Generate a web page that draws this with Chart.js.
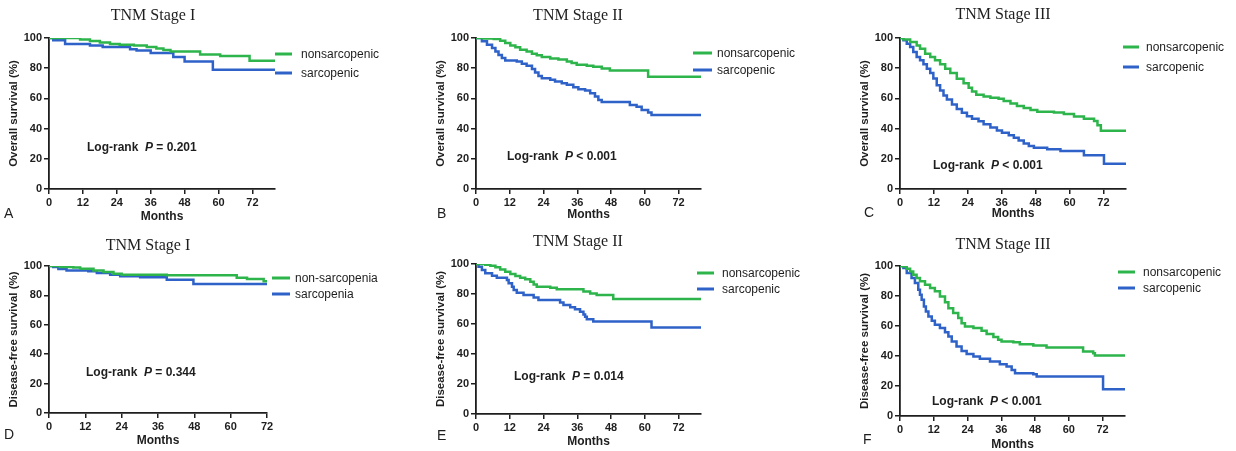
<!DOCTYPE html>
<html>
<head>
<meta charset="utf-8">
<script src="https://cdn.jsdelivr.net/npm/chart.js@4.4.1/dist/chart.umd.min.js"></script>
<style>
  body { margin: 0; background: #fff; }
  #wrap { position: relative; width: 1236px; height: 451px; overflow: hidden; }
  canvas { position: absolute; }
</style>
</head>
<body>
<div id="wrap">
  <canvas id="pA" width="410" height="225" style="left:0;top:0"></canvas>
  <canvas id="pB" width="410" height="225" style="left:410px;top:0"></canvas>
  <canvas id="pC" width="416" height="225" style="left:820px;top:0"></canvas>
  <canvas id="pD" width="410" height="226" style="left:0;top:225px"></canvas>
  <canvas id="pE" width="410" height="226" style="left:410px;top:225px"></canvas>
  <canvas id="pF" width="416" height="226" style="left:820px;top:225px"></canvas>
</div>
<script>
// Kaplan-Meier steps: [month, survival %]
var osStage1Non = [[0,100],[11,99],[14.5,98],[18,97],[21.6,96],[25,95.5],[30,95],[34.6,94],[38,93],[40.5,92],[43,91],[53.5,89],[60.6,88],[71,85],[80,85]];
var osStage1Sarc = [[0,100],[1.5,98.5],[5.7,96],[14.5,95],[19,94],[28.7,92.5],[31,91.8],[36,90],[44,87.4],[48,84.5],[58,79],[80,79]];

var osStage2Non = [[0,100],[2.7,99.6],[6.3,99.3],[8.6,98.2],[10.4,96.7],[12.2,95],[14,93.8],[15.7,92.2],[18,91],[19.9,89.6],[21.6,88.5],[23.4,87.4],[26.4,86.5],[29.3,85.8],[32.3,84.5],[34,83.4],[35.8,82.3],[39.4,81.6],[41.7,80.9],[44.7,79.8],[47.6,78.5],[61.2,74.3],[80,74.3]];
var osStage2Sarc = [[0,100],[2.1,97.8],[3.9,95.6],[5.7,93.3],[6.9,91],[8,88.8],[9.2,86.7],[10.4,85.1],[14.5,84.5],[16.3,82.9],[18,81.6],[19.9,79.4],[21,77.2],[22.2,74.9],[23.4,73.4],[26.4,72.3],[28.1,71.2],[30.5,70.1],[32.3,69],[34.6,67.4],[36.4,66.1],[38.8,65.2],[40.6,63.4],[42.3,61.2],[43.5,59],[44.7,57.6],[54.7,55.7],[57.1,54.5],[58.9,52.3],[61.2,50.6],[62.4,49],[80,49]];

var osStage3Non = [[0,100],[1.2,99],[3.6,97.4],[5.9,95.1],[7.1,92.9],[8.9,89.6],[10.7,87.4],[12.4,85.2],[14.2,82.6],[16,79.7],[17.8,76.8],[20.1,73],[22.5,70],[24.3,67],[25.5,64.5],[27,62.5],[29.6,61.2],[32,60.5],[34.9,59.8],[36.7,58.2],[39.1,56.6],[41.4,55],[43.8,53.6],[46.2,52.3],[48.6,51.2],[54.5,50.6],[58,49.6],[61.6,48],[65.1,46.5],[68.7,45],[69.9,42.2],[71.1,38.5],[80,38.5]];
var osStage3Sarc = [[0,100],[1.2,98.5],[2.4,96.2],[3.6,94],[4.7,90.7],[5.9,87.4],[7.1,85.2],[8.3,82.6],[9.5,79.7],[10.7,76.8],[11.8,73.1],[13,68.7],[14.2,65.3],[15.4,62],[16.6,59.2],[18.4,56],[20.1,53],[21.9,50.5],[23.7,48.2],[25.5,46.6],[27.8,44.8],[29.6,42.8],[32,40.8],[34.3,38.8],[36.1,37.2],[38.5,35.6],[40.3,34],[42,32.2],[43.8,30.2],[45.6,28.4],[47.4,27.4],[52.1,26.3],[56.8,25.2],[65.1,22.3],[72.2,16.8],[80,16.8]];

var dfsStage1Non = [[0,100],[3.6,99.3],[8,98.9],[10.3,98.2],[14.7,97],[18,95.9],[21.3,94.8],[24,94.1],[38.9,93.7],[62,92],[65.4,91.2],[70.9,89.6],[72,89.6]];
var dfsStage1Sarc = [[0,100],[1.4,99.3],[3.1,98],[5.8,97],[13,96.4],[15.8,95.2],[20.2,94.1],[23.5,93],[30.1,92.3],[38.9,90.7],[47.7,87.8],[72,87.8]];

var dfsStage2Non = [[0,100],[3.3,99.5],[5.1,98.9],[6.9,97.8],[8.6,96.4],[10.4,94.9],[12.2,93.3],[14,92],[15.7,90.9],[17.5,89.8],[19.3,88.2],[20.5,86.4],[21.6,84.9],[26.4,84.2],[28.7,83.1],[38.2,81.6],[40.6,80.4],[42.9,79.3],[48.8,76.7],[80,76.7]];
var dfsStage2Sarc = [[0,100],[0.9,98.2],[2.1,96],[3.3,93.8],[5.7,92.2],[7.4,90.9],[11,89.3],[11.6,87.1],[12.8,84.9],[13.4,82.7],[14.5,80.9],[16.9,79.3],[20.5,77.6],[22.2,76],[29.9,74.4],[31.1,72.7],[33.5,71.1],[35.2,69.8],[37,68.2],[38.2,66.4],[38.8,64.9],[39.4,63.1],[41.7,61.6],[62.4,57.6],[80,57.6]];

var dfsStage3Non = [[0,100],[1.2,99.6],[2.4,98.2],[3.6,96.4],[4.7,94.2],[5.9,92],[7.1,89.8],[8.9,87.5],[10.7,85.3],[12.4,83.1],[14.2,79.7],[16,75.9],[17.2,71.9],[18.9,68.6],[20.7,65.3],[21.9,61.9],[23.1,59.7],[26.1,58.6],[29,56.8],[30.8,54.6],[33.2,52.6],[34.9,50.8],[36.1,49.7],[40.3,49.2],[42.6,47.9],[47.4,47],[52.1,45.7],[65.1,43],[68.7,41.9],[69.3,40.3],[80,40.3]];
var dfsStage3Sarc = [[0,100],[1.2,98.7],[2.4,95.3],[4.1,92],[5.3,88.6],[6.5,84.2],[7.1,80.8],[7.7,77.5],[8.5,73],[9.2,69.7],[10.1,66.4],[11.3,63.5],[12.4,60.8],[14.2,58.6],[16,55.9],[17.2,53],[18.4,49.7],[20.1,46.3],[21.9,43.4],[23.7,41.4],[26.1,39.6],[28.4,38.1],[32,36.3],[35.5,34.5],[37.9,33],[39.7,30.7],[40.9,28.5],[47.4,27.8],[48.6,26.3],[72.2,17.8],[80,17.8]];

var stageTitles = ['TNM Stage I', 'TNM Stage II', 'TNM Stage III'];
var groupLabels = ['nonsarcopenic', 'sarcopenic'];
var dfsStage1Labels = ['non-sarcopenia', 'sarcopenia'];
var pTexts = ['= 0.201', '< 0.001', '< 0.001', '= 0.344', '= 0.014', '< 0.001'];
var panelLetters = ['A', 'B', 'C', 'D', 'E', 'F'];
var monthMax = [80, 80, 80, 72, 80, 80];
var monthTicks = [0, 12, 24, 36, 48, 60, 72];

var GREEN = '#2db54c';
var BLUE = '#2f62c9';
var INK = '#1e1e1e';
var SANS = "'Liberation Sans', Arial, sans-serif";

// draws the per-panel texts: title, legend, log-rank note, panel letter
var panelText = {
  id: 'panelText',
  afterDraw: function(chart, args, o) {
    var ctx = chart.ctx;
    ctx.save();
    ctx.fillStyle = INK;
    ctx.textBaseline = 'middle';

    ctx.font = "16px 'Liberation Serif', 'Times New Roman', serif";
    ctx.textAlign = 'center';
    ctx.fillText(o.title, o.titleX, o.titleY);

    ctx.font = '14px ' + SANS;
    ctx.textAlign = 'left';
    ctx.fillText(o.letter, o.letterX - 5, o.letterY);

    ctx.font = '12px ' + SANS;
    for (var i = 0; i < 2; i++) {
      var ly = o.legY[i];
      ctx.strokeStyle = i === 0 ? GREEN : BLUE;
      ctx.lineWidth = 3;
      ctx.beginPath();
      ctx.moveTo(o.legX[0], ly);
      ctx.lineTo(o.legX[1], ly);
      ctx.stroke();
      ctx.fillText(o.labels[i], o.legX[2], ly + 1);
    }

    var x = o.pX, y = o.pY;
    ctx.font = 'bold 12px ' + SANS;
    ctx.fillText('Log-rank ', x, y);
    x += ctx.measureText('Log-rank  ').width;
    ctx.font = 'italic bold 12px ' + SANS;
    ctx.fillText('P', x, y);
    x += ctx.measureText('P').width;
    ctx.font = 'bold 12px ' + SANS;
    ctx.fillText(' ' + o.p, x, y);
    ctx.restore();
  }
};

// positions inside each canvas (layout only, no data)
var panels = [
  { id: 'pA', yTitle: 'Overall survival (%)', h: 225, area: [49, 38, 275, 189], monthsPad: 2,
    titleXY: [153, 16], letterXY: [9, 214], legX: [275, 292, 301], legY: [54, 73], pXY: [87, 148] },
  { id: 'pB', yTitle: 'Overall survival (%)', h: 225, area: [66, 38, 291, 189], monthsPad: 4,
    titleXY: [168, 16], letterXY: [32, 214], legX: [283, 302, 307], legY: [53, 70], pXY: [97, 157] },
  { id: 'pC', yTitle: 'Overall survival (%)', h: 225, area: [80, 38, 306, 189], monthsPad: 5,
    titleXY: [183, 15], letterXY: [49, 213], legX: [303, 319, 326], legY: [47, 67], pXY: [113, 166] },
  { id: 'pD', yTitle: 'Disease-free survival (%)', h: 226, area: [49, 41, 267, 188], monthsPad: 4,
    titleXY: [148, 21], letterXY: [9, 210], legX: [272, 290, 295], legY: [53, 69], pXY: [86, 148] },
  { id: 'pE', yTitle: 'Disease-free survival (%)', h: 226, area: [66, 39, 291, 189], monthsPad: 3,
    titleXY: [168, 17], letterXY: [32, 211], legX: [287, 304, 312], legY: [48, 64], pXY: [104, 152] },
  { id: 'pF', yTitle: 'Disease-free survival (%)', h: 226, area: [80, 41, 305, 191], monthsPad: 0,
    titleXY: [183, 20], letterXY: [48, 215], legX: [298, 315, 323], legY: [47, 63], pXY: [112, 177] }
];

var series = [
  [osStage1Non, osStage1Sarc], [osStage2Non, osStage2Sarc], [osStage3Non, osStage3Sarc],
  [dfsStage1Non, dfsStage1Sarc], [dfsStage2Non, dfsStage2Sarc], [dfsStage3Non, dfsStage3Sarc]
];

function toXY(rows) {
  return rows.map(function(r) { return {x: r[0], y: r[1]}; });
}

panels.forEach(function(p, i) {
  var canvas = document.getElementById(p.id);
  var w = canvas.width;
  var labels = i === 3 ? dfsStage1Labels : groupLabels;
  new Chart(canvas, {
    type: 'line',
    data: {
      datasets: [
        { label: labels[0], data: toXY(series[i][0]), borderColor: GREEN, borderWidth: 2.5, stepped: true, pointRadius: 0 },
        { label: labels[1], data: toXY(series[i][1]), borderColor: BLUE, borderWidth: 2.5, stepped: true, pointRadius: 0 }
      ]
    },
    options: {
      responsive: false,
      animation: false,
      events: [],
      layout: { padding: { left: p.area[0] - 42, top: p.area[1], right: w - p.area[2], bottom: 0 } },
      scales: {
        x: {
          type: 'linear', min: 0, max: monthMax[i],
          afterBuildTicks: function(s) {
            s.ticks = monthTicks.map(function(v) { return {value: v}; });
          },
          afterFit: function(s) { s.height = p.h - p.area[3]; },
          ticks: { color: INK, padding: 2, maxRotation: 0, autoSkip: false, font: { family: SANS, size: 11, weight: 'bold' } },
          grid: { drawOnChartArea: false, tickLength: 5, color: INK, lineWidth: 1.5 },
          border: { display: true, color: INK, width: 1.8 },
          title: { display: true, text: 'Months', color: INK, padding: { top: 0, bottom: p.monthsPad },
                   font: { family: SANS, size: 12, weight: 'bold', lineHeight: 1 } }
        },
        y: {
          min: 0, max: 100,
          afterFit: function(s) { s.width = 42; },
          ticks: { stepSize: 20, color: INK, padding: 2, font: { family: SANS, size: 11, weight: 'bold' } },
          grid: { drawOnChartArea: false, tickLength: 5, color: INK, lineWidth: 1.5 },
          border: { display: true, color: INK, width: 1.8 },
          title: { display: true, text: p.yTitle, color: INK, padding: 0,
                   font: { family: SANS, size: 11.5, weight: 'bold' } }
        }
      },
      plugins: {
        legend: { display: false },
        tooltip: { enabled: false },
        panelText: {
          title: stageTitles[i % 3], titleX: p.titleXY[0], titleY: p.titleXY[1],
          letter: panelLetters[i], letterX: p.letterXY[0], letterY: p.letterXY[1],
          labels: labels, legX: p.legX, legY: p.legY,
          p: pTexts[i], pX: p.pXY[0], pY: p.pXY[1]
        }
      }
    },
    plugins: [panelText]
  });
});
</script>
</body>
</html>
